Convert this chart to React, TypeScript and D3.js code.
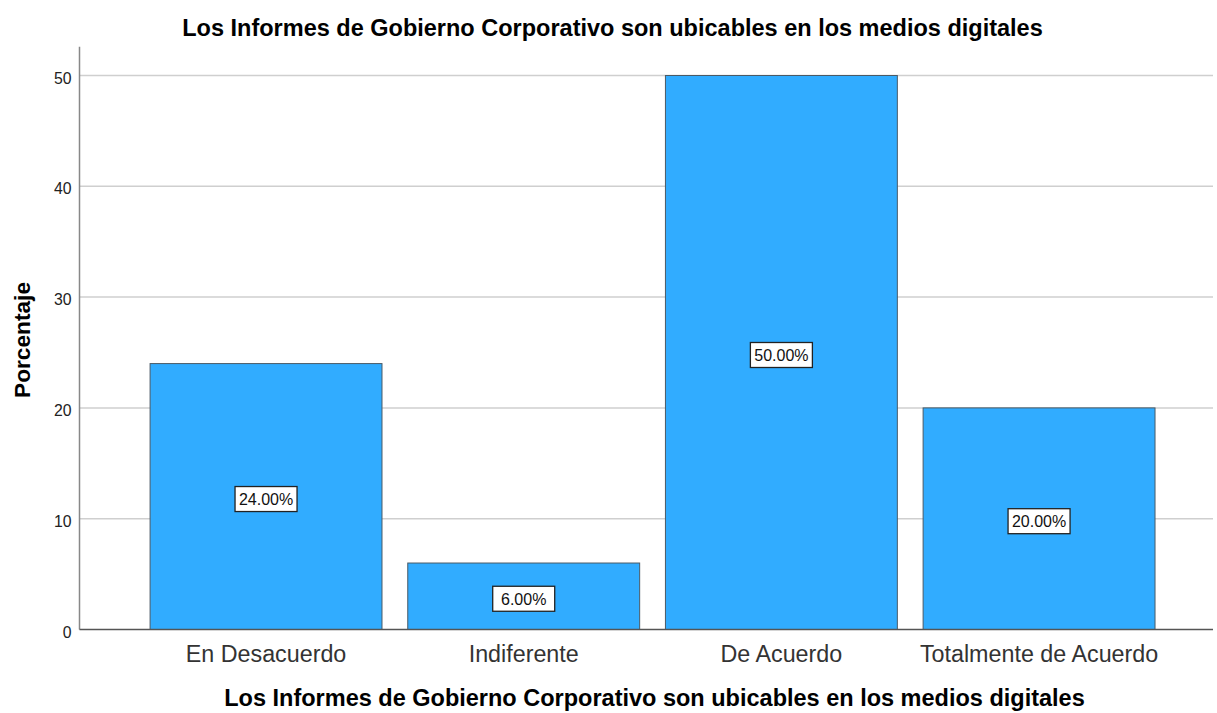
import React from "react";
import * as d3 from "d3";

const categories = ["En Desacuerdo", "Indiferente", "De Acuerdo", "Totalmente de Acuerdo"];
const values = [24, 6, 50, 20];
const yTicks = [0, 10, 20, 30, 40, 50];
const title = "Los Informes de Gobierno Corporativo son ubicables en los medios digitales";
const xTitle = "Los Informes de Gobierno Corporativo son ubicables en los medios digitales";
const yTitle = "Porcentaje";

export default function App() {
  const W = 1217, H = 713;
  const axisLeft = 79.5, axisRight = 1213;
  const y = d3.scaleLinear().domain([0, 50]).range([629.5, 75.5]);
  const yTop = y(52.6);
  const x = d3.scaleBand<string>().domain(categories).range([137.2, 1167.9]).paddingInner(0.1).paddingOuter(0.05);
  const font = "Arial, 'Liberation Sans', sans-serif";
  return (
    <svg width={W} height={H} style={{ position: "absolute", left: 0, top: 0, background: "#fff" }} fontFamily={font}>
      <text x={612.5} y={36} textAnchor="middle" fontSize={23.5} fontWeight="bold" fill="#000">{title}</text>
      {yTicks.filter(t => t > 0).map(t => (
        <line key={t} x1={axisLeft} x2={axisRight} y1={y(t)} y2={y(t)} stroke="#cfcfcf" strokeWidth={1.5} />
      ))}
      {yTicks.map(t => (
        <text key={t} x={71.5} y={y(t) + 8} textAnchor="end" fontSize={15.8} fill="#222">{t}</text>
      ))}
      {categories.map((c, i) => {
        const bx = x(c)!, bw = x.bandwidth();
        const top = y(values[i]);
        const mid = (top + y(0)) / 2 + 2.5;
        const label = values[i].toFixed(2) + "%";
        return (
          <g key={c}>
            <rect x={bx} y={top} width={bw} height={y(0) - top} fill="#31acff" stroke="#4a5a66" strokeWidth={1} />
            <rect x={bx + bw / 2 - 31} y={mid - 12.5} width={62} height={25} fill="#fff" stroke="#222" strokeWidth={1.3} />
            <text x={bx + bw / 2} y={mid + 6} textAnchor="middle" fontSize={16} fill="#111">{label}</text>
            <text x={bx + bw / 2} y={662} textAnchor="middle" fontSize={23.3} fill="#333">{c}</text>
          </g>
        );
      })}
      <line x1={axisLeft} x2={axisLeft} y1={yTop} y2={y(0)} stroke="#888" strokeWidth={1.5} />
      <line x1={axisLeft} x2={axisRight} y1={y(0)} y2={y(0)} stroke="#555" strokeWidth={1.5} />
      <text x={654.5} y={706} textAnchor="middle" fontSize={23.5} fontWeight="bold" fill="#000">{xTitle}</text>
      <text transform={`translate(29.5,340) rotate(-90)`} textAnchor="middle" fontSize={22.7} fontWeight="bold" fill="#000">{yTitle}</text>
    </svg>
  );
}
